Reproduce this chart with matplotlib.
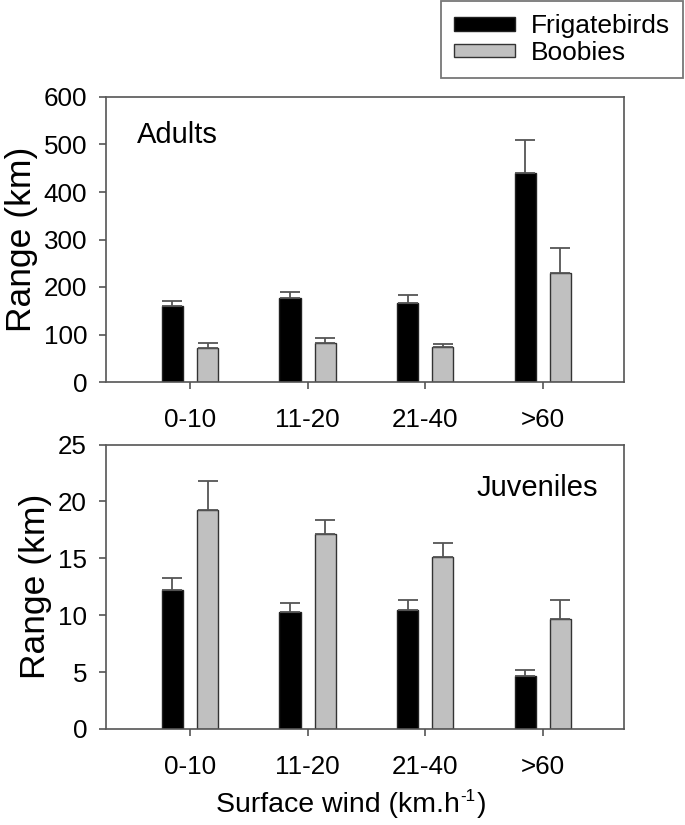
import matplotlib
matplotlib.use("Agg")
import matplotlib.pyplot as plt
import numpy as np
from matplotlib.patches import Patch
from matplotlib.transforms import offset_copy

plt.rcParams['font.family'] = ['Liberation Sans', 'DejaVu Sans']

categories = ['0-10', '11-20', '21-40', '>60']
adult_frig = [160, 176, 166, 439]
adult_frig_err = [11, 14, 17, 70]
adult_boob = [72, 83, 74, 229]
adult_boob_err = [11, 9, 6, 54]
juv_frig = [12.2, 10.3, 10.5, 4.7]
juv_frig_err = [1.1, 0.8, 0.8, 0.45]
juv_boob = [19.25, 17.15, 15.15, 9.65]
juv_boob_err = [2.55, 1.25, 1.2, 1.7]

W, H = 685, 825
fig = plt.figure(figsize=(W/100, H/100), dpi=100)

def ax_rect(l, t, r, b):
    return [l/W, 1-b/H, (r-l)/W, (b-t)/H]

ax1 = fig.add_axes(ax_rect(106.5, 97, 624, 382))
ax2 = fig.add_axes(ax_rect(106.5, 444.5, 624, 729))

x = np.arange(len(categories))
bw = 0.18
off = 0.15
spine_c = '#555555'
err_kw = dict(ecolor='#555555', elinewidth=1.3, capsize=7.5, capthick=1.3)

def draw(ax, f, fe, b, be):
    ax.bar(x - off, f, bw, color='black', edgecolor='#222222', linewidth=1.0,
           yerr=[np.zeros(len(fe)), fe], error_kw=err_kw, zorder=2)
    ax.bar(x + off, b, bw, color='#c0c0c0', edgecolor='#333333', linewidth=1.0,
           yerr=[np.zeros(len(be)), be], error_kw=err_kw, zorder=2)
    ax.set_xlim(-0.71, 3.69)
    ax.set_xticks(x)
    ax.set_xticklabels(categories)
    for s in ax.spines.values():
        s.set_color(spine_c)
        s.set_linewidth(1.2)
    ax.tick_params(axis='both', direction='out', length=5, width=1.2, color=spine_c,
                   labelsize=18.7)
    ax.tick_params(axis='x', pad=14)
    ax.tick_params(axis='y', pad=9)
    ax.set_ylabel('Range (km)', fontsize=25.5, labelpad=4)

draw(ax1, adult_frig, adult_frig_err, adult_boob, adult_boob_err)
ax1.set_ylim(0, 600)
ax1.set_yticks(np.arange(0, 601, 100))
ax1.text(0.059, 0.915, 'Adults', transform=ax1.transAxes, fontsize=21, va='top', ha='left')

draw(ax2, juv_frig, juv_frig_err, juv_boob, juv_boob_err)
ax2.set_ylim(0, 25)
ax2.set_yticks(np.arange(0, 26, 5))
ax2.text(0.95, 0.895, 'Juveniles', transform=ax2.transAxes, fontsize=21, va='top', ha='right')

# x label with hyphen superscript, built from pieces
fig.canvas.draw()
r = fig.canvas.get_renderer()
fs = 20.5
base_y = 1 - 812/H
t1 = fig.text(0, base_y, 'Surface wind (km.h', fontsize=fs, ha='left', va='baseline')
t2 = fig.text(0, base_y, '-1', fontsize=fs*0.6, ha='left', va='baseline')
t3 = fig.text(0, base_y, ')', fontsize=fs, ha='left', va='baseline')
w1 = t1.get_window_extent(r).width
w2 = t2.get_window_extent(r).width
w3 = t3.get_window_extent(r).width
total = w1 + w2 + w3 + 2
start = 351 - total/2
t1.set_x(start/W)
t2.set_x((start + w1 + 1)/W)
t2.set_y(base_y + 11/H)
t3.set_x((start + w1 + w2 + 2)/W)

handles = [Patch(facecolor='black', edgecolor='#222222', linewidth=1.0),
           Patch(facecolor='#c0c0c0', edgecolor='#333333', linewidth=1.0)]
leg = fig.legend(handles, ['Frigatebirds', 'Boobies'], loc='upper right',
                 bbox_to_anchor=(683/W, 1 - 1/H), fontsize=19, frameon=True,
                 fancybox=False, handlelength=2.3, handleheight=0.42,
                 labelspacing=0.1, borderpad=0.5, handletextpad=0.6,
                 borderaxespad=0)
leg.get_frame().set_edgecolor('#555555')
leg.get_frame().set_linewidth(1.3)

fig.savefig('out.png', dpi=100)
